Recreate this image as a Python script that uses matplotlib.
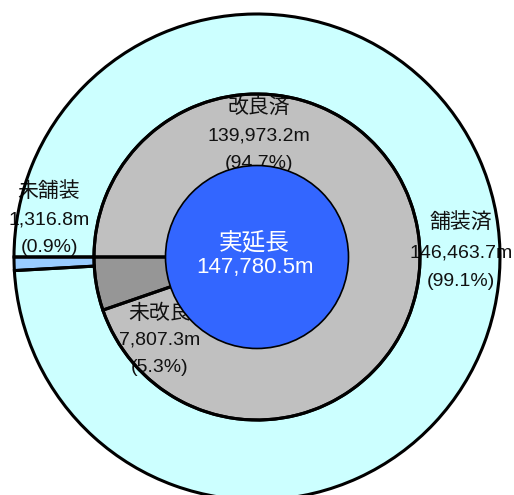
import matplotlib
matplotlib.use('Agg')
import matplotlib.pyplot as plt
from matplotlib.patches import Circle

# 道路延長 (m)
total_length = 147780.5
paved_names = ['未舗装', '舗装済']
paved_values = [1316.8, 146463.7]
improved_names = ['未改良', '改良済']
improved_values = [7807.3, 139973.2]

OUTER = '#CCFFFF'
OUTER_SMALL = '#99CCFF'
MID = '#C0C0C0'
MID_SMALL = '#969696'
CENTER = '#3366FF'

W, H = 514, 495
CX, CY, R = 257, 257, 243      # pixel centre / outer radius
R_MID = 163 / R
R_IN = 91.5 / R

fig = plt.figure(figsize=(W / 100, H / 100), dpi=100)
ax = fig.add_axes([0, 0, 1, 1])


def px(x, y):
    return (x - CX) / R, (CY - y) / R


ring = dict(radius=1.0, startangle=180, counterclock=True)
ring_w = 1.0 - R_MID
mid = dict(radius=R_MID, startangle=180, counterclock=True)

# fills
ax.pie(paved_values, colors=[OUTER_SMALL, OUTER],
       wedgeprops=dict(width=ring_w, linewidth=0, zorder=1), **ring)
ax.pie(improved_values, colors=[MID_SMALL, MID],
       wedgeprops=dict(linewidth=0, zorder=1), **mid)

# labels (sit under the outlines and the centre disc)
jp = ['Noto Sans CJK JP']
num = ['Liberation Sans', 'Noto Sans CJK JP']


def label(x, ys, name, value):
    pct = value / total_length * 100
    lines = [(name, jp, 15), (f'{value:,.1f}m', num, 14), (f'({pct:.1f}%)', num, 14)]
    for (s, fam, fs), yy in zip(lines, ys):
        ax.text(*px(x, yy), s, ha='center', va='center', fontsize=fs,
                family=fam, color='#111111', zorder=2)


label(49, [191, 220, 247], paved_names[0], paved_values[0])
label(461, [223, 253, 281], paved_names[1], paved_values[1])
label(160, [313, 340, 368], improved_names[0], improved_values[0])
label(259, [107, 136, 163], improved_names[1], improved_values[1])

# outlines
ax.pie(paved_values, colors=['none', 'none'],
       wedgeprops=dict(width=ring_w, linewidth=2.2, edgecolor='black', zorder=3), **ring)
ax.pie(improved_values, colors=['none', 'none'],
       wedgeprops=dict(linewidth=2.2, edgecolor='black', zorder=3), **mid)

# centre disc
ax.add_patch(Circle((0, 0), R_IN, facecolor=CENTER, edgecolor='black',
                    linewidth=1.2, zorder=4))
ax.text(*px(254, 243), '実延長', ha='center', va='center', fontsize=17,
        family=jp, color='white', zorder=5)
ax.text(*px(255, 268), f'{total_length:,.1f}m', ha='center', va='center',
        fontsize=16, family=num, color='white', zorder=5)

ax.set_xlim(-CX / R, (W - CX) / R)
ax.set_ylim(-(H - CY) / R, CY / R)
ax.set_aspect('equal')
ax.axis('off')

fig.savefig('out.png', dpi=100, facecolor='white')
